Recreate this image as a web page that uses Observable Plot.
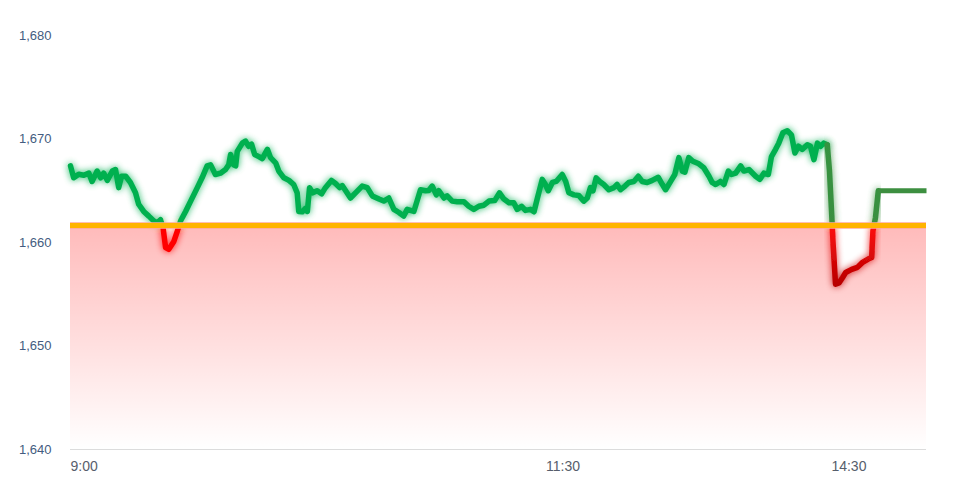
<!DOCTYPE html>
<html>
<head>
<meta charset="utf-8">
<script src="https://cdn.jsdelivr.net/npm/d3@7"></script>
<script src="https://cdn.jsdelivr.net/npm/@observablehq/plot@0.6"></script>
<style>
  html, body { margin: 0; padding: 0; background: #fff; }
  #chart svg { display: block; }
</style>
</head>
<body>
<div id="chart"></div>
<script>
// Session minutes since 9:00 (lunch break removed) and index values
const minute = [0.0,1.0,2.6,4.2,5.8,6.8,8.4,9.5,10.5,11.6,13.2,14.2,15.2,16.1,17.4,18.9,20.5,21.5,23.1,24.7,26.3,27.4,28.4,29.2,30.0,31.0,32.6,33.7,34.7,36.3,37.9,40.0,41.5,43.1,44.2,45.7,47.3,48.9,49.9,50.5,51.5,52.1,52.6,54.2,55.2,56.2,57.1,58.1,59.4,60.5,62.1,63.1,64.7,65.7,67.3,68.9,70.4,71.5,72.0,73.1,74.1,74.7,75.4,76.4,77.8,79.2,80.4,82.3,83.6,84.9,85.7,86.8,88.3,89.9,92.0,93.6,95.2,97.3,98.8,100.4,102.0,103.6,105.1,106.2,108.3,110.4,112.0,113.0,114.1,115.4,116.2,117.8,118.8,120.4,122.0,124.1,125.6,127.2,128.8,130.4,132.0,133.8,135.3,136.7,138.3,139.8,140.9,142.3,143.5,145.1,146.2,147.2,148.8,149.8,150.7,152.0,153.2,155.1,156.2,157.2,158.8,160.3,161.9,163.0,164.0,164.8,165.8,166.9,168.2,169.8,171.4,172.4,173.5,174.9,176.1,177.7,179.1,180.3,181.9,183.5,185.4,186.7,187.7,189.3,190.6,191.9,193.0,193.8,195.0,196.3,198.2,199.8,201.4,202.4,203.5,205.0,206.1,207.5,208.5,209.8,211.4,212.4,214.0,216.1,217.4,218.7,220.1,221.1,222.4,223.4,224.7,226.1,227.4,228.5,229.6,230.8,232.4,233.4,234.5,235.6,236.6,237.6,238.7,239.4,240.1,240.5,241.3,242.4,243.5,244.5,246.4,248.2,249.7,251.6,252.7,253.1,253.9,254.8,270.0];
const value = [1667.4,1666.25,1666.6,1666.5,1666.7,1665.9,1666.9,1666.25,1666.7,1666.0,1666.9,1667.05,1665.3,1666.4,1666.4,1665.8,1664.8,1663.7,1663.0,1662.55,1662.07,1661.9,1662.2,1661.4,1659.5,1659.34,1660.1,1661.1,1662.07,1663.0,1664.0,1665.3,1666.25,1667.4,1667.5,1666.57,1666.7,1667.05,1667.5,1668.5,1667.5,1667.4,1668.8,1669.6,1669.8,1669.3,1669.5,1668.5,1668.3,1668.1,1669.0,1668.2,1667.7,1666.9,1666.25,1666.0,1665.6,1664.8,1663.0,1662.97,1663.3,1663.0,1665.3,1664.8,1665.0,1664.7,1665.3,1666.0,1665.7,1665.3,1665.5,1665.0,1664.3,1664.8,1665.45,1665.3,1664.5,1664.2,1664.0,1664.3,1663.2,1662.9,1662.55,1663.2,1663.0,1665.1,1665.0,1665.03,1665.45,1664.6,1665.0,1664.3,1664.5,1664.0,1663.93,1663.93,1663.5,1663.2,1663.5,1663.6,1664.0,1664.05,1664.8,1664.2,1663.85,1663.85,1663.2,1663.5,1663.1,1663.2,1662.97,1664.2,1666.1,1665.6,1665.0,1665.8,1665.9,1666.57,1665.9,1664.8,1664.6,1664.55,1664.0,1664.3,1665.3,1665.0,1666.25,1665.9,1665.6,1665.1,1665.3,1665.6,1665.1,1665.45,1665.8,1665.9,1666.4,1665.9,1665.8,1666.0,1666.3,1665.6,1665.1,1665.9,1666.57,1668.2,1666.9,1666.8,1668.2,1667.85,1667.6,1667.2,1666.4,1665.8,1665.6,1665.9,1665.6,1666.9,1666.57,1666.7,1667.4,1666.9,1667.05,1666.4,1666.1,1666.7,1666.57,1668.3,1669.0,1669.6,1670.6,1670.8,1670.4,1668.65,1669.3,1669.0,1669.45,1669.3,1668.0,1669.6,1669.3,1669.6,1669.45,1666.9,1662.7,1660.1,1655.97,1656.1,1656.6,1657.1,1657.4,1657.6,1658.05,1658.4,1658.55,1661.1,1662.4,1665.0,1665.0];
const referenceValue = 1661.65;
const yTicks = [1640, 1650, 1660, 1670, 1680];
const xTickMinutes = [0, 150, 240];
const xTickLabels = ["9:00", "11:30", "14:30"];
const sessionEnd = 270;
const atcStart = 238.7;   // start of closing segment
const atcEnd = 254.8;     // closing price settled

const data = minute.map((t, i) => ({t, v: value[i]}));
const segA = data.filter(d => d.t <= atcStart);
const segB = data.filter(d => d.t >= atcStart && d.t <= atcEnd);
const segC = data.filter(d => d.t >= atcEnd);

const W = 975, H = 478, mT = 35, mB = 29, mL = 70, mR = 49;

function defsMark(index, scales) {
  const y = (scales && scales.y) ? scales.y :
    d3.scaleLinear([1640, 1680], [H - mB, mT]);
  const yr = y(referenceValue);
  const ylow = y(1656);
  const defs = d3.create("svg:defs");
  const ag = defs.append("linearGradient").attr("id", "areaGrad")
    .attr("x1", 0).attr("x2", 0).attr("y1", 0).attr("y2", 1);
  ag.append("stop").attr("offset", "0%").attr("stop-color", "#ff0000").attr("stop-opacity", 0.27);
  ag.append("stop").attr("offset", "100%").attr("stop-color", "#ff0000").attr("stop-opacity", 0.0);
  const la = defs.append("linearGradient").attr("id", "lineA")
    .attr("gradientUnits", "userSpaceOnUse").attr("x1", 0).attr("x2", 0).attr("y1", 0).attr("y2", H);
  la.append("stop").attr("offset", yr / H).attr("stop-color", "#00b050");
  la.append("stop").attr("offset", yr / H).attr("stop-color", "#ff0000");
  la.append("stop").attr("offset", 1).attr("stop-color", "#ff0000");
  const lb = defs.append("linearGradient").attr("id", "lineB")
    .attr("gradientUnits", "userSpaceOnUse").attr("x1", 0).attr("x2", 0).attr("y1", 0).attr("y2", H);
  lb.append("stop").attr("offset", 0).attr("stop-color", "#2f9a46");
  lb.append("stop").attr("offset", yr / H).attr("stop-color", "#3a8f3f");
  lb.append("stop").attr("offset", yr / H).attr("stop-color", "#ff1010");
  lb.append("stop").attr("offset", ylow / H).attr("stop-color", "#b80000");
  lb.append("stop").attr("offset", 1).attr("stop-color", "#b80000");
  const f = defs.append("filter").attr("id", "glow")
    .attr("x", "-5%").attr("y", "-20%").attr("width", "110%").attr("height", "140%");
  f.append("feGaussianBlur").attr("in", "SourceGraphic").attr("stdDeviation", 3.5).attr("result", "b");
  const ct = f.append("feComponentTransfer").attr("in", "b").attr("result", "c");
  ct.append("feFuncA").attr("type", "linear").attr("slope", 0.85);
  const m = f.append("feMerge");
  m.append("feMergeNode").attr("in", "c");
  m.append("feMergeNode").attr("in", "SourceGraphic");
  return defs.node();
}

const chart = Plot.plot({
  width: W,
  height: H,
  marginTop: mT,
  marginBottom: mB,
  marginLeft: mL,
  marginRight: mR,
  style: {fontFamily: "'Liberation Sans', Arial, sans-serif", background: "#fff"},
  x: {domain: [0, sessionEnd], label: null},
  y: {domain: [1640, 1680], label: null},
  marks: [
    defsMark,
    Plot.areaY(data, {x: "t", y1: 1640, y2: d => Math.min(d.v, referenceValue), fill: "url(#areaGrad)", curve: "linear"}),
    Plot.ruleY([1640], {stroke: "#dcdcdc", strokeWidth: 1}),
    Plot.axisY({ticks: yTicks, tickFormat: d3.format(","), tickSize: 0, tickPadding: 19, fontSize: 13, fill: "#445c80", label: null}),
    Plot.axisX({ticks: xTickMinutes, tickFormat: (d) => xTickLabels[xTickMinutes.indexOf(d)], tickSize: 0, tickPadding: 12, textAnchor: "start", fontSize: 14, fill: "#575e6c", label: null}),
    Plot.lineY(segA, {x: "t", y: "v", stroke: "url(#lineA)", strokeWidth: 5.5, strokeLinejoin: "round", strokeLinecap: "round"}),
    Plot.lineY(segB, {x: "t", y: "v", stroke: "url(#lineB)", strokeWidth: 5.5, strokeLinejoin: "round", strokeLinecap: "round"}),
    Plot.lineY(segC, {x: "t", y: "v", stroke: "#3d8f40", strokeWidth: 5, strokeLinejoin: "round", strokeLinecap: "butt"}),
    Plot.ruleY([referenceValue], {stroke: "#ffa898", strokeWidth: 6.5}),
    Plot.ruleY([referenceValue], {stroke: "#ffb400", strokeWidth: 5})
  ]
});

d3.select(chart).selectAll("g").filter(function () {
  const s = this.getAttribute("stroke");
  return s === "url(#lineA)" || s === "url(#lineB)";
}).attr("filter", "url(#glow)");

document.getElementById("chart").appendChild(chart);
</script>
</body>
</html>
